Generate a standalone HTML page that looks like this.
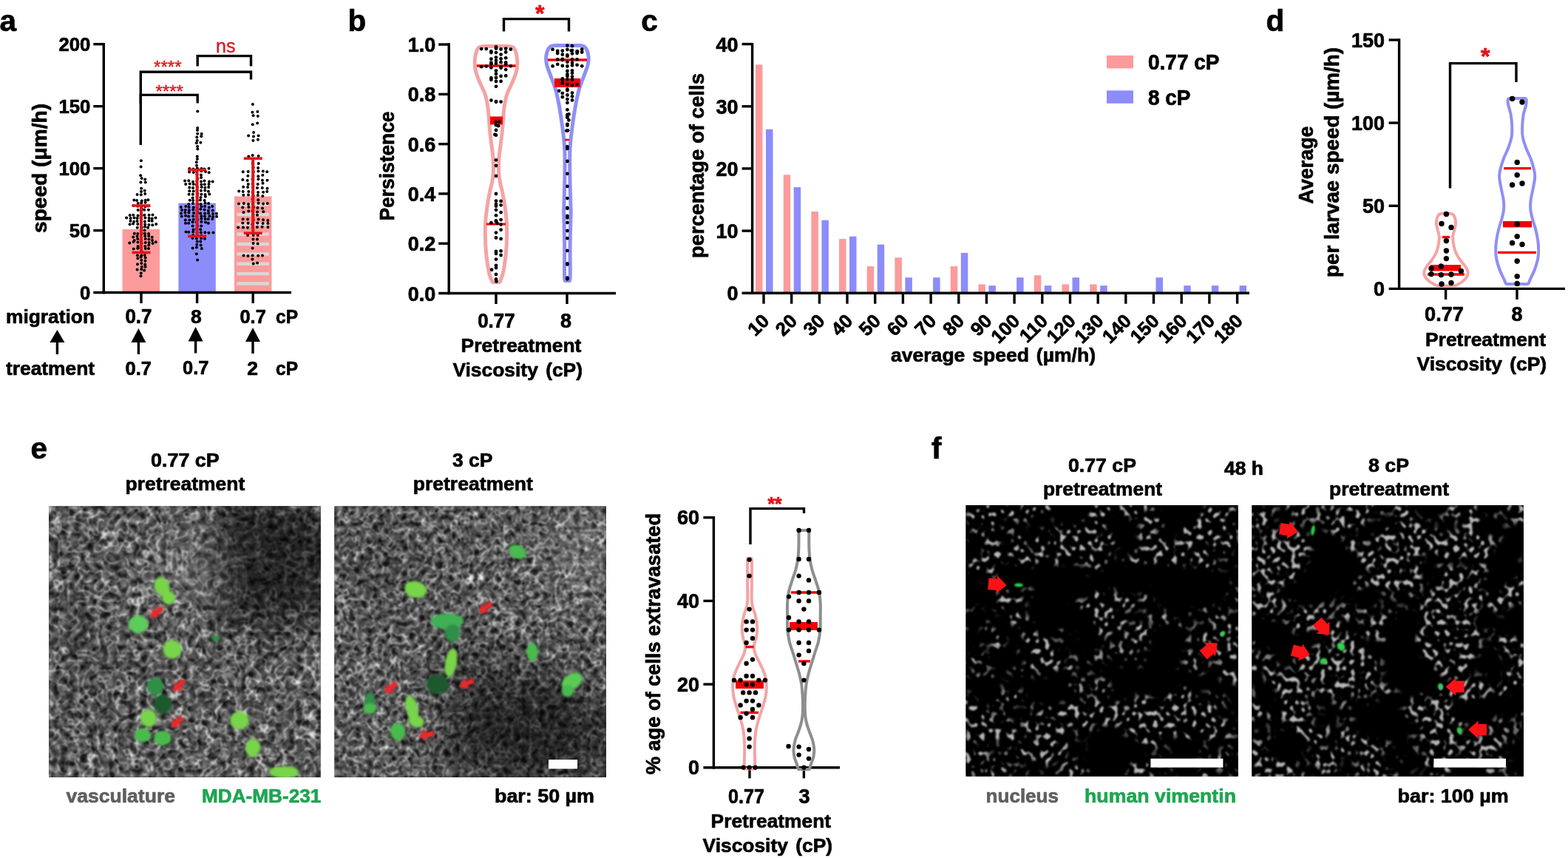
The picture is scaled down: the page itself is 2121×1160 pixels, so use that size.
<!DOCTYPE html>
<html lang="en"><head><meta charset="utf-8"><title>Figure: viscosity pretreatment, migration and extravasation</title>
<style>html,body{margin:0;padding:0;background:#fff}body{width:2121px;height:1160px;overflow:hidden}svg{display:block}text{font-family:'Liberation Sans', sans-serif;font-weight:bold;stroke:#000;stroke-width:0.7px;stroke-linejoin:round}</style>
</head><body>
<svg width="2121" height="1160" viewBox="0 0 2121 1160">
<rect width="2121" height="1160" fill="#fff"/>
<defs>
<filter id="texE1" x="0" y="0" width="100%" height="100%" color-interpolation-filters="sRGB">
<feTurbulence type="turbulence" baseFrequency="0.075" numOctaves="1" seed="4" result="t"/>
<feColorMatrix in="t" type="matrix" values="-7 0 0 0 0.5  -7 0 0 0 0.5  -7 0 0 0 0.5  0 0 0 0 1" result="web"/>
<feTurbulence type="fractalNoise" baseFrequency="0.11" numOctaves="2" seed="21" result="h"/>
<feColorMatrix in="h" type="matrix" values="0 1.3 0 0 -0.32  0 1.3 0 0 -0.32  0 1.3 0 0 -0.32  0 0 0 0 1" result="cells"/>
<feComposite in="web" in2="cells" operator="arithmetic" k1="0" k2="0.85" k3="0.7" k4="0.06" result="c1"/>
<feGaussianBlur in="c1" stdDeviation="0.8"/>
</filter>
<filter id="texE2" x="0" y="0" width="100%" height="100%" color-interpolation-filters="sRGB">
<feTurbulence type="turbulence" baseFrequency="0.085" numOctaves="1" seed="14" result="t"/>
<feColorMatrix in="t" type="matrix" values="-7 0 0 0 0.5  -7 0 0 0 0.5  -7 0 0 0 0.5  0 0 0 0 1" result="web"/>
<feTurbulence type="fractalNoise" baseFrequency="0.125" numOctaves="2" seed="31" result="h"/>
<feColorMatrix in="h" type="matrix" values="0 1.3 0 0 -0.32  0 1.3 0 0 -0.32  0 1.3 0 0 -0.32  0 0 0 0 1" result="cells"/>
<feComposite in="web" in2="cells" operator="arithmetic" k1="0" k2="0.85" k3="0.7" k4="0.06" result="c1"/>
<feGaussianBlur in="c1" stdDeviation="0.8"/>
</filter>
<filter id="texF1" x="0" y="0" width="100%" height="100%" color-interpolation-filters="sRGB">
<feTurbulence type="fractalNoise" baseFrequency="0.15 0.13" numOctaves="1" seed="5" result="s"/>
<feColorMatrix in="s" type="matrix" values="9 0 0 0 -5.0  9 0 0 0 -5.0  9 0 0 0 -5.0  0 0 0 0 1" result="sp"/>
<feTurbulence type="fractalNoise" baseFrequency="0.013 0.017" numOctaves="3" seed="8" result="l"/>
<feColorMatrix in="l" type="matrix" values="0 8 0 0 -3.55  0 8 0 0 -3.55  0 8 0 0 -3.55  0 0 0 0 1" result="mask"/>
<feComposite in="sp" in2="mask" operator="arithmetic" k1="0.72" k2="0" k3="0" k4="0" result="c"/>
<feGaussianBlur in="c" stdDeviation="0.8"/>
</filter>
<filter id="texF2" x="0" y="0" width="100%" height="100%" color-interpolation-filters="sRGB">
<feTurbulence type="fractalNoise" baseFrequency="0.15 0.13" numOctaves="1" seed="15" result="s"/>
<feColorMatrix in="s" type="matrix" values="9 0 0 0 -4.85  9 0 0 0 -4.85  9 0 0 0 -4.85  0 0 0 0 1" result="sp"/>
<feTurbulence type="fractalNoise" baseFrequency="0.013 0.017" numOctaves="3" seed="18" result="l"/>
<feColorMatrix in="l" type="matrix" values="0 8 0 0 -3.3  0 8 0 0 -3.3  0 8 0 0 -3.3  0 0 0 0 1" result="mask"/>
<feComposite in="sp" in2="mask" operator="arithmetic" k1="0.72" k2="0" k3="0" k4="0" result="c"/>
<feGaussianBlur in="c" stdDeviation="0.8"/>
</filter>
<filter id="blur2" x="-30%" y="-30%" width="160%" height="160%"><feGaussianBlur stdDeviation="1.6"/></filter>
<filter id="blur1" x="-30%" y="-30%" width="160%" height="160%"><feGaussianBlur stdDeviation="0.9"/></filter>
<filter id="blurL" x="-50%" y="-50%" width="200%" height="200%"><feGaussianBlur stdDeviation="28"/></filter>
</defs>
<g id="panel-a">
<text x="-0.5" y="42" font-size="40.5">a</text>
<rect x="165.6" y="309.9" width="50.4" height="85.6" fill="#fc9b9b"/>
<rect x="241.4" y="274.6" width="50.4" height="120.9" fill="#8c8cfa"/>
<rect x="317" y="265.4" width="50.4" height="130.1" fill="#fc9b9b"/>
<rect x="320.5" y="274.4" width="43.4" height="4.4" fill="#d8d8d8"/>
<rect x="320.5" y="287.8" width="43.4" height="4.4" fill="#d8d8d8"/>
<rect x="320.5" y="301.1" width="43.4" height="4.4" fill="#d8d8d8"/>
<rect x="320.5" y="314.5" width="43.4" height="4.4" fill="#d8d8d8"/>
<rect x="320.5" y="327.8" width="43.4" height="4.4" fill="#d8d8d8"/>
<rect x="320.5" y="341.2" width="43.4" height="4.4" fill="#d8d8d8"/>
<rect x="320.5" y="354.5" width="43.4" height="4.4" fill="#d8d8d8"/>
<rect x="320.5" y="367.9" width="43.4" height="4.4" fill="#d8d8d8"/>
<rect x="320.5" y="381.2" width="43.4" height="4.4" fill="#d8d8d8"/>
<line x1="140.3" y1="57.9" x2="140.3" y2="397.2" stroke="#000" stroke-width="3.4"/>
<line x1="126.3" y1="395.5" x2="394" y2="395.5" stroke="#000" stroke-width="3.4"/>
<line x1="126.3" y1="311.6" x2="140.3" y2="311.6" stroke="#000" stroke-width="3.4"/>
<line x1="126.3" y1="227.6" x2="140.3" y2="227.6" stroke="#000" stroke-width="3.4"/>
<line x1="126.3" y1="143.7" x2="140.3" y2="143.7" stroke="#000" stroke-width="3.4"/>
<line x1="126.3" y1="59.7" x2="140.3" y2="59.7" stroke="#000" stroke-width="3.4"/>
<line x1="191" y1="395.5" x2="191" y2="410" stroke="#000" stroke-width="3.4"/>
<line x1="266.6" y1="395.5" x2="266.6" y2="410" stroke="#000" stroke-width="3.4"/>
<line x1="342.2" y1="395.5" x2="342.2" y2="410" stroke="#000" stroke-width="3.4"/>
<text x="122.3" y="404.7" font-size="25.7" text-anchor="end">0</text>
<text x="122.3" y="320.8" font-size="25.7" text-anchor="end">50</text>
<text x="122.3" y="236.8" font-size="25.7" text-anchor="end">100</text>
<text x="122.3" y="152.8" font-size="25.7" text-anchor="end">150</text>
<text x="122.3" y="68.9" font-size="25.7" text-anchor="end">200</text>
<text x="0" y="0" font-size="27" text-anchor="middle" textLength="175" lengthAdjust="spacingAndGlyphs" transform="translate(63 227.5) rotate(-90)">speed (μm/h)</text>
<g fill="#000"><circle cx="190.5" cy="373.2" r="2"/><circle cx="190.8" cy="369.2" r="2"/><circle cx="191.2" cy="364" r="2"/><circle cx="195.1" cy="365.6" r="2"/><circle cx="185.6" cy="364.4" r="2"/><circle cx="191.9" cy="360.7" r="2"/><circle cx="196.6" cy="360.8" r="2"/><circle cx="191.3" cy="356" r="2"/><circle cx="196.2" cy="357.4" r="2"/><circle cx="186" cy="357.2" r="2"/><circle cx="191.3" cy="351.7" r="2"/><circle cx="196.5" cy="352.8" r="2"/><circle cx="190.6" cy="347.6" r="2"/><circle cx="196.7" cy="348.4" r="2"/><circle cx="186.4" cy="349.3" r="2"/><circle cx="191.4" cy="345.2" r="2"/><circle cx="195.8" cy="345" r="2"/><circle cx="185.9" cy="345.3" r="2"/><circle cx="191.7" cy="339.5" r="2"/><circle cx="190.3" cy="335.6" r="2"/><circle cx="196.8" cy="336.1" r="2"/><circle cx="186.2" cy="335.8" r="2"/><circle cx="201" cy="336" r="2"/><circle cx="180.7" cy="336.4" r="2"/><circle cx="191.2" cy="332.9" r="2"/><circle cx="196.3" cy="333" r="2"/><circle cx="186.6" cy="333.1" r="2"/><circle cx="201.3" cy="331.4" r="2"/><circle cx="191.6" cy="328.9" r="2"/><circle cx="196.7" cy="328.1" r="2"/><circle cx="186.4" cy="327.4" r="2"/><circle cx="201.6" cy="328.1" r="2"/><circle cx="180.6" cy="327.1" r="2"/><circle cx="206.6" cy="329" r="2"/><circle cx="175.3" cy="328.6" r="2"/><circle cx="210.8" cy="327.3" r="2"/><circle cx="190.6" cy="324.4" r="2"/><circle cx="196.7" cy="323" r="2"/><circle cx="186.2" cy="323" r="2"/><circle cx="201.4" cy="323.6" r="2"/><circle cx="181.7" cy="324.9" r="2"/><circle cx="206" cy="324.9" r="2"/><circle cx="190.7" cy="319" r="2"/><circle cx="196.2" cy="318.9" r="2"/><circle cx="185.5" cy="319.6" r="2"/><circle cx="201.2" cy="319.1" r="2"/><circle cx="180.2" cy="320.5" r="2"/><circle cx="205.7" cy="320.7" r="2"/><circle cx="191.7" cy="315.5" r="2"/><circle cx="195.9" cy="315.7" r="2"/><circle cx="186.3" cy="315.9" r="2"/><circle cx="201.1" cy="315.9" r="2"/><circle cx="181.8" cy="315.7" r="2"/><circle cx="190.9" cy="312" r="2"/><circle cx="195.5" cy="311.2" r="2"/><circle cx="191.9" cy="307.5" r="2"/><circle cx="196.1" cy="306.5" r="2"/><circle cx="185.8" cy="307.7" r="2"/><circle cx="200.1" cy="307.7" r="2"/><circle cx="191.2" cy="302.5" r="2"/><circle cx="196.2" cy="303.3" r="2"/><circle cx="186.3" cy="303.1" r="2"/><circle cx="201.4" cy="303.9" r="2"/><circle cx="180.1" cy="302.5" r="2"/><circle cx="206.3" cy="304.3" r="2"/><circle cx="175.6" cy="303.3" r="2"/><circle cx="211.2" cy="303" r="2"/><circle cx="190.8" cy="298.9" r="2"/><circle cx="195.8" cy="299.5" r="2"/><circle cx="185.6" cy="299.1" r="2"/><circle cx="201.5" cy="298.4" r="2"/><circle cx="181.1" cy="299.8" r="2"/><circle cx="205.7" cy="298.7" r="2"/><circle cx="176.5" cy="298.8" r="2"/><circle cx="190.4" cy="295.1" r="2"/><circle cx="196.4" cy="294.4" r="2"/><circle cx="185.7" cy="294.9" r="2"/><circle cx="201.6" cy="295.1" r="2"/><circle cx="181.6" cy="294.5" r="2"/><circle cx="205.7" cy="295.5" r="2"/><circle cx="176.7" cy="295.1" r="2"/><circle cx="210.5" cy="294.4" r="2"/><circle cx="171.1" cy="294.6" r="2"/><circle cx="191.6" cy="291.8" r="2"/><circle cx="195.4" cy="290.7" r="2"/><circle cx="186.6" cy="291.4" r="2"/><circle cx="201.6" cy="290.8" r="2"/><circle cx="180.3" cy="290.7" r="2"/><circle cx="206.5" cy="290.6" r="2"/><circle cx="175.7" cy="290.9" r="2"/><circle cx="190.9" cy="286.8" r="2"/><circle cx="191.8" cy="282.2" r="2"/><circle cx="195.1" cy="283.8" r="2"/><circle cx="186.7" cy="283.9" r="2"/><circle cx="200.9" cy="283.8" r="2"/><circle cx="191.8" cy="278.2" r="2"/><circle cx="196.4" cy="279.5" r="2"/><circle cx="186.3" cy="278.8" r="2"/><circle cx="200.6" cy="278.5" r="2"/><circle cx="180.5" cy="277.9" r="2"/><circle cx="191.2" cy="274.3" r="2"/><circle cx="196.6" cy="273.8" r="2"/><circle cx="186.7" cy="275.1" r="2"/><circle cx="191.8" cy="271.4" r="2"/><circle cx="196.7" cy="270.8" r="2"/><circle cx="185.1" cy="271.1" r="2"/><circle cx="200.4" cy="270.2" r="2"/><circle cx="181.3" cy="270.6" r="2"/><circle cx="190.8" cy="263.3" r="2"/><circle cx="196.2" cy="262.1" r="2"/><circle cx="185.6" cy="263.1" r="2"/><circle cx="191" cy="258.9" r="2"/><circle cx="195.7" cy="257.7" r="2"/><circle cx="191.1" cy="254.8" r="2"/><circle cx="190.4" cy="246.6" r="2"/><circle cx="196.8" cy="246.6" r="2"/><circle cx="191.6" cy="240.9" r="2"/><circle cx="196.2" cy="242.6" r="2"/><circle cx="190.2" cy="237.3" r="2"/><circle cx="190.6" cy="225.6" r="2"/><circle cx="190.9" cy="217.2" r="2"/></g>
<g fill="#000"><circle cx="267.1" cy="351.6" r="2"/><circle cx="265.8" cy="343.3" r="2"/><circle cx="265.9" cy="334.5" r="2"/><circle cx="272.8" cy="336.1" r="2"/><circle cx="260.6" cy="335.4" r="2"/><circle cx="266.3" cy="330.7" r="2"/><circle cx="271.6" cy="331.4" r="2"/><circle cx="266.8" cy="326.5" r="2"/><circle cx="271.3" cy="326.5" r="2"/><circle cx="265.9" cy="322.6" r="2"/><circle cx="272.3" cy="322.3" r="2"/><circle cx="260.5" cy="321.9" r="2"/><circle cx="277" cy="322.7" r="2"/><circle cx="267.1" cy="318" r="2"/><circle cx="272.4" cy="318.4" r="2"/><circle cx="261.2" cy="317.9" r="2"/><circle cx="266.6" cy="314.3" r="2"/><circle cx="271.8" cy="314.3" r="2"/><circle cx="261.2" cy="313.4" r="2"/><circle cx="277.3" cy="314.3" r="2"/><circle cx="255.2" cy="313.7" r="2"/><circle cx="282.4" cy="314.7" r="2"/><circle cx="251.5" cy="313.6" r="2"/><circle cx="288.5" cy="314.5" r="2"/><circle cx="266.2" cy="309.5" r="2"/><circle cx="271.2" cy="310.2" r="2"/><circle cx="261.6" cy="310.4" r="2"/><circle cx="267.1" cy="305.6" r="2"/><circle cx="272.3" cy="305.4" r="2"/><circle cx="260.6" cy="305.5" r="2"/><circle cx="265.7" cy="300.3" r="2"/><circle cx="272.4" cy="300.1" r="2"/><circle cx="260.6" cy="300.2" r="2"/><circle cx="277.9" cy="300.4" r="2"/><circle cx="255.1" cy="301.7" r="2"/><circle cx="281.8" cy="301.7" r="2"/><circle cx="251" cy="301.7" r="2"/><circle cx="267.4" cy="296.9" r="2"/><circle cx="272.4" cy="295.8" r="2"/><circle cx="261.8" cy="296.7" r="2"/><circle cx="277.6" cy="295.9" r="2"/><circle cx="256.4" cy="297.6" r="2"/><circle cx="281.7" cy="296.3" r="2"/><circle cx="250.8" cy="297.4" r="2"/><circle cx="287.3" cy="296.1" r="2"/><circle cx="266.1" cy="292.6" r="2"/><circle cx="272.4" cy="292.2" r="2"/><circle cx="261.1" cy="292.2" r="2"/><circle cx="276.9" cy="292.2" r="2"/><circle cx="255.2" cy="292.4" r="2"/><circle cx="283.4" cy="292.2" r="2"/><circle cx="251.1" cy="291.7" r="2"/><circle cx="288.1" cy="292.9" r="2"/><circle cx="245.7" cy="292.4" r="2"/><circle cx="293.1" cy="292.7" r="2"/><circle cx="267.3" cy="287.4" r="2"/><circle cx="271.2" cy="288.6" r="2"/><circle cx="262" cy="288.1" r="2"/><circle cx="277.1" cy="288.5" r="2"/><circle cx="255.4" cy="287.6" r="2"/><circle cx="282" cy="288.3" r="2"/><circle cx="250.4" cy="287.6" r="2"/><circle cx="288.1" cy="289" r="2"/><circle cx="245" cy="288.5" r="2"/><circle cx="292.9" cy="288.8" r="2"/><circle cx="266.8" cy="283.3" r="2"/><circle cx="271.4" cy="282.8" r="2"/><circle cx="261.3" cy="283.6" r="2"/><circle cx="276.6" cy="283.5" r="2"/><circle cx="255.7" cy="284.3" r="2"/><circle cx="281.9" cy="284.8" r="2"/><circle cx="250.7" cy="284" r="2"/><circle cx="287.7" cy="284.5" r="2"/><circle cx="246" cy="283.9" r="2"/><circle cx="266.6" cy="279.9" r="2"/><circle cx="272.5" cy="279.3" r="2"/><circle cx="261.7" cy="280.4" r="2"/><circle cx="277.1" cy="279" r="2"/><circle cx="255.5" cy="279.9" r="2"/><circle cx="282.8" cy="280.4" r="2"/><circle cx="251.3" cy="279" r="2"/><circle cx="287.2" cy="279" r="2"/><circle cx="244.8" cy="279.9" r="2"/><circle cx="267.2" cy="276" r="2"/><circle cx="271.5" cy="275.9" r="2"/><circle cx="261" cy="275" r="2"/><circle cx="277.6" cy="274.4" r="2"/><circle cx="255.3" cy="275.9" r="2"/><circle cx="282.1" cy="274.9" r="2"/><circle cx="266.7" cy="271.3" r="2"/><circle cx="271" cy="270.6" r="2"/><circle cx="261.2" cy="270.9" r="2"/><circle cx="276.7" cy="271.1" r="2"/><circle cx="256.8" cy="270.7" r="2"/><circle cx="266.7" cy="265.8" r="2"/><circle cx="271.5" cy="266.9" r="2"/><circle cx="260.6" cy="267.4" r="2"/><circle cx="277.9" cy="265.8" r="2"/><circle cx="267.4" cy="262" r="2"/><circle cx="272.4" cy="262.8" r="2"/><circle cx="260.9" cy="262.7" r="2"/><circle cx="277.5" cy="262.9" r="2"/><circle cx="255.6" cy="262.8" r="2"/><circle cx="283.3" cy="262.6" r="2"/><circle cx="266.7" cy="257.2" r="2"/><circle cx="271.9" cy="257.7" r="2"/><circle cx="261.7" cy="258.4" r="2"/><circle cx="277.3" cy="257.4" r="2"/><circle cx="256.3" cy="258.3" r="2"/><circle cx="281.9" cy="258.8" r="2"/><circle cx="266.9" cy="252.9" r="2"/><circle cx="272.7" cy="253" r="2"/><circle cx="261" cy="254.1" r="2"/><circle cx="277.4" cy="253.8" r="2"/><circle cx="256.3" cy="253.6" r="2"/><circle cx="282.2" cy="253.1" r="2"/><circle cx="265.8" cy="249.8" r="2"/><circle cx="272.4" cy="249.5" r="2"/><circle cx="261.7" cy="249.1" r="2"/><circle cx="276.8" cy="249.2" r="2"/><circle cx="256.7" cy="248.5" r="2"/><circle cx="282.5" cy="248.9" r="2"/><circle cx="251.2" cy="249.1" r="2"/><circle cx="266.3" cy="244.9" r="2"/><circle cx="272" cy="245.6" r="2"/><circle cx="261" cy="245.8" r="2"/><circle cx="276.5" cy="244.6" r="2"/><circle cx="255.3" cy="244.3" r="2"/><circle cx="283" cy="245.6" r="2"/><circle cx="250.1" cy="244.5" r="2"/><circle cx="287.6" cy="245.6" r="2"/><circle cx="267.2" cy="241.3" r="2"/><circle cx="272.1" cy="240.1" r="2"/><circle cx="266.4" cy="235.9" r="2"/><circle cx="271.9" cy="236.6" r="2"/><circle cx="266.1" cy="231.7" r="2"/><circle cx="272.4" cy="231.3" r="2"/><circle cx="261.8" cy="233" r="2"/><circle cx="278" cy="232" r="2"/><circle cx="256.1" cy="232.4" r="2"/><circle cx="282.7" cy="233.2" r="2"/><circle cx="266.9" cy="227.5" r="2"/><circle cx="272.5" cy="227.9" r="2"/><circle cx="261.5" cy="228.4" r="2"/><circle cx="276.3" cy="228.4" r="2"/><circle cx="256.3" cy="227.9" r="2"/><circle cx="282.5" cy="227.8" r="2"/><circle cx="266" cy="223.7" r="2"/><circle cx="265.8" cy="219.3" r="2"/><circle cx="266.9" cy="214.9" r="2"/><circle cx="266.7" cy="211.6" r="2"/><circle cx="267.3" cy="201.4" r="2"/><circle cx="267.1" cy="198" r="2"/><circle cx="265.8" cy="193.2" r="2"/><circle cx="271.4" cy="192.7" r="2"/><circle cx="266.7" cy="190.1" r="2"/><circle cx="266.3" cy="185.6" r="2"/><circle cx="272.3" cy="184.2" r="2"/><circle cx="267.2" cy="180.8" r="2"/><circle cx="272.7" cy="181" r="2"/><circle cx="267" cy="176" r="2"/><circle cx="267.2" cy="172.9" r="2"/><circle cx="267.3" cy="150.4" r="2"/></g>
<g fill="#000"><circle cx="342.7" cy="356.4" r="2"/><circle cx="348.1" cy="355.5" r="2"/><circle cx="341.4" cy="350.4" r="2"/><circle cx="341.6" cy="345.6" r="2"/><circle cx="349.2" cy="345.7" r="2"/><circle cx="335.5" cy="345.9" r="2"/><circle cx="355" cy="345.5" r="2"/><circle cx="329.5" cy="345.4" r="2"/><circle cx="341.6" cy="335.6" r="2"/><circle cx="342.6" cy="329.1" r="2"/><circle cx="348.6" cy="329.5" r="2"/><circle cx="342.4" cy="323.4" r="2"/><circle cx="347.9" cy="323.4" r="2"/><circle cx="342.7" cy="317.9" r="2"/><circle cx="348.7" cy="318" r="2"/><circle cx="335.1" cy="317.9" r="2"/><circle cx="342" cy="307.1" r="2"/><circle cx="347.9" cy="307" r="2"/><circle cx="335" cy="307.8" r="2"/><circle cx="354.6" cy="306.8" r="2"/><circle cx="328.9" cy="307.6" r="2"/><circle cx="362.4" cy="306.9" r="2"/><circle cx="322.2" cy="307.6" r="2"/><circle cx="341.3" cy="303.3" r="2"/><circle cx="348.3" cy="301.6" r="2"/><circle cx="335.6" cy="301.7" r="2"/><circle cx="355.6" cy="302.1" r="2"/><circle cx="328.3" cy="301.5" r="2"/><circle cx="362.4" cy="302" r="2"/><circle cx="342.7" cy="296.9" r="2"/><circle cx="349.6" cy="296.6" r="2"/><circle cx="335.1" cy="296.5" r="2"/><circle cx="356" cy="297.3" r="2"/><circle cx="328.7" cy="296.2" r="2"/><circle cx="362.3" cy="297.9" r="2"/><circle cx="342.4" cy="290.6" r="2"/><circle cx="348" cy="290.8" r="2"/><circle cx="341.6" cy="285.3" r="2"/><circle cx="348" cy="286.5" r="2"/><circle cx="336.3" cy="285.6" r="2"/><circle cx="356.3" cy="286.2" r="2"/><circle cx="329.5" cy="287" r="2"/><circle cx="343" cy="279.9" r="2"/><circle cx="348.4" cy="281" r="2"/><circle cx="336.4" cy="280" r="2"/><circle cx="355" cy="281.5" r="2"/><circle cx="328.3" cy="280.6" r="2"/><circle cx="341.9" cy="275.8" r="2"/><circle cx="349.6" cy="274.7" r="2"/><circle cx="336" cy="275.9" r="2"/><circle cx="356" cy="275.5" r="2"/><circle cx="329.8" cy="275.1" r="2"/><circle cx="361.8" cy="274.9" r="2"/><circle cx="322.9" cy="275.4" r="2"/><circle cx="341.8" cy="269.3" r="2"/><circle cx="349.2" cy="270.2" r="2"/><circle cx="342.6" cy="264.4" r="2"/><circle cx="348.8" cy="263.9" r="2"/><circle cx="336" cy="263.6" r="2"/><circle cx="355.3" cy="265.1" r="2"/><circle cx="329.3" cy="263.8" r="2"/><circle cx="341.7" cy="259.9" r="2"/><circle cx="349.1" cy="260" r="2"/><circle cx="336.3" cy="259.1" r="2"/><circle cx="356.1" cy="259.7" r="2"/><circle cx="328.7" cy="258.9" r="2"/><circle cx="361.2" cy="259" r="2"/><circle cx="323.2" cy="258.4" r="2"/><circle cx="342.3" cy="253" r="2"/><circle cx="348" cy="254.1" r="2"/><circle cx="335.1" cy="252.9" r="2"/><circle cx="354.8" cy="254.1" r="2"/><circle cx="329.2" cy="252.8" r="2"/><circle cx="361.5" cy="254.7" r="2"/><circle cx="341.7" cy="248.5" r="2"/><circle cx="348.7" cy="249" r="2"/><circle cx="335.8" cy="249" r="2"/><circle cx="355.5" cy="247.8" r="2"/><circle cx="341.6" cy="242.2" r="2"/><circle cx="349.4" cy="242.2" r="2"/><circle cx="334.7" cy="243.9" r="2"/><circle cx="354.9" cy="243.8" r="2"/><circle cx="328.3" cy="242.9" r="2"/><circle cx="361.5" cy="243.7" r="2"/><circle cx="342.4" cy="237.9" r="2"/><circle cx="349.3" cy="238.3" r="2"/><circle cx="335.3" cy="237.8" r="2"/><circle cx="355.3" cy="236.8" r="2"/><circle cx="342.8" cy="232.4" r="2"/><circle cx="349.4" cy="231.6" r="2"/><circle cx="335.7" cy="232.1" r="2"/><circle cx="355.8" cy="231.4" r="2"/><circle cx="328.7" cy="232.2" r="2"/><circle cx="361.2" cy="232.3" r="2"/><circle cx="342.6" cy="226.6" r="2"/><circle cx="349.1" cy="227" r="2"/><circle cx="341.7" cy="221.1" r="2"/><circle cx="349.7" cy="221.1" r="2"/><circle cx="342.1" cy="215.2" r="2"/><circle cx="341.7" cy="209.9" r="2"/><circle cx="349.6" cy="211.1" r="2"/><circle cx="336.3" cy="211.6" r="2"/><circle cx="342.4" cy="189.9" r="2"/><circle cx="348.9" cy="188.8" r="2"/><circle cx="343" cy="184.4" r="2"/><circle cx="349.6" cy="183.6" r="2"/><circle cx="336.1" cy="183.4" r="2"/><circle cx="343.1" cy="179" r="2"/><circle cx="341.8" cy="168.3" r="2"/><circle cx="348.2" cy="166.6" r="2"/><circle cx="342.6" cy="156.2" r="2"/><circle cx="348.8" cy="156.9" r="2"/><circle cx="341.4" cy="151.7" r="2"/><circle cx="348.4" cy="151.1" r="2"/><circle cx="341.9" cy="140.9" r="2"/></g>
<line x1="191" y1="341.4" x2="191" y2="278" stroke="#e1141c" stroke-width="4"/>
<line x1="178.5" y1="341.4" x2="203.5" y2="341.4" stroke="#e1141c" stroke-width="3.6"/>
<line x1="178.5" y1="278" x2="203.5" y2="278" stroke="#e1141c" stroke-width="3.6"/>
<line x1="266.6" y1="319.4" x2="266.6" y2="229.6" stroke="#e1141c" stroke-width="4"/>
<line x1="254.1" y1="319.4" x2="279.1" y2="319.4" stroke="#e1141c" stroke-width="3.6"/>
<line x1="254.1" y1="229.6" x2="279.1" y2="229.6" stroke="#e1141c" stroke-width="3.6"/>
<line x1="342.2" y1="315.2" x2="342.2" y2="214.2" stroke="#e1141c" stroke-width="4"/>
<line x1="329.7" y1="315.2" x2="354.7" y2="315.2" stroke="#e1141c" stroke-width="3.6"/>
<line x1="329.7" y1="214.2" x2="354.7" y2="214.2" stroke="#e1141c" stroke-width="3.6"/>
<path d="M267.2 89.6V75.6H339.5V89.6" fill="none" stroke="#000" stroke-width="3.4" stroke-linejoin="miter"/>
<path d="M190.3 196V97.2H339.5V107.6" fill="none" stroke="#000" stroke-width="3.4" stroke-linejoin="miter"/>
<path d="M190.3 140V128.4H267.2V139.6" fill="none" stroke="#000" stroke-width="3.4" stroke-linejoin="miter"/>
<text x="292" y="71" font-size="26" textLength="26.5" lengthAdjust="spacingAndGlyphs" fill="#e1141c" style="stroke:#e1141c;stroke-width:0.35px;font-weight:normal">ns</text>
<text x="208" y="99" font-size="24" textLength="37.6" lengthAdjust="spacingAndGlyphs" fill="#e1141c" style="stroke:#e1141c;stroke-width:0.35px;font-weight:normal">****</text>
<text x="210.4" y="131.5" font-size="24" textLength="37.6" lengthAdjust="spacingAndGlyphs" fill="#e1141c" style="stroke:#e1141c;stroke-width:0.35px;font-weight:normal">****</text>
<text x="8" y="437" font-size="26.5" textLength="120" lengthAdjust="spacingAndGlyphs">migration</text>
<text x="169.4" y="437" font-size="27.2" textLength="36" lengthAdjust="spacingAndGlyphs">0.7</text>
<text x="258" y="437" font-size="26.5">8</text>
<text x="324.4" y="437" font-size="26.5" textLength="35.4" lengthAdjust="spacingAndGlyphs">0.7</text>
<text x="373" y="437" font-size="26.5" textLength="30" lengthAdjust="spacingAndGlyphs">cP</text>
<text x="8" y="507" font-size="26.5" textLength="120" lengthAdjust="spacingAndGlyphs">treatment</text>
<text x="169.6" y="507" font-size="26.5" textLength="35.4" lengthAdjust="spacingAndGlyphs">0.7</text>
<text x="247" y="505.5" font-size="26.5" textLength="35.4" lengthAdjust="spacingAndGlyphs">0.7</text>
<text x="334.2" y="507" font-size="26.5">2</text>
<text x="373" y="507" font-size="26.5" textLength="30" lengthAdjust="spacingAndGlyphs">cP</text>
<path d="M77.4 446L87.4 463L67.4 463Z" fill="#000"/>
<line x1="77.4" y1="462" x2="77.4" y2="479" stroke="#000" stroke-width="3.4"/>
<path d="M187.4 444L197.4 463L177.4 463Z" fill="#000"/>
<line x1="187.4" y1="462" x2="187.4" y2="479" stroke="#000" stroke-width="3.4"/>
<path d="M264.6 442L274.6 461.5L254.6 461.5Z" fill="#000"/>
<line x1="264.6" y1="460.5" x2="264.6" y2="477.5" stroke="#000" stroke-width="3.4"/>
<path d="M342 443L352 462L332 462Z" fill="#000"/>
<line x1="342" y1="461" x2="342" y2="478" stroke="#000" stroke-width="3.4"/>
</g>
<g id="panel-b">
<text x="470.5" y="41.5" font-size="40.5">b</text>
<line x1="607.2" y1="58.3" x2="607.2" y2="398.2" stroke="#000" stroke-width="3.4"/>
<line x1="593.2" y1="396.5" x2="833" y2="396.5" stroke="#000" stroke-width="3.4"/>
<line x1="593.2" y1="329.2" x2="607.2" y2="329.2" stroke="#000" stroke-width="3.4"/>
<line x1="593.2" y1="261.9" x2="607.2" y2="261.9" stroke="#000" stroke-width="3.4"/>
<line x1="593.2" y1="194.7" x2="607.2" y2="194.7" stroke="#000" stroke-width="3.4"/>
<line x1="593.2" y1="127.4" x2="607.2" y2="127.4" stroke="#000" stroke-width="3.4"/>
<line x1="593.2" y1="60.1" x2="607.2" y2="60.1" stroke="#000" stroke-width="3.4"/>
<line x1="671" y1="396.5" x2="671" y2="411" stroke="#000" stroke-width="3.4"/>
<line x1="767" y1="396.5" x2="767" y2="411" stroke="#000" stroke-width="3.4"/>
<text x="589.4" y="406.5" font-size="27" text-anchor="end">0.0</text>
<text x="589.4" y="339.2" font-size="27" text-anchor="end">0.2</text>
<text x="589.4" y="271.9" font-size="27" text-anchor="end">0.4</text>
<text x="589.4" y="204.7" font-size="27" text-anchor="end">0.6</text>
<text x="589.4" y="137.4" font-size="27" text-anchor="end">0.8</text>
<text x="589.4" y="70.1" font-size="27" text-anchor="end">1.0</text>
<text x="0" y="0" font-size="27" text-anchor="middle" textLength="148" lengthAdjust="spacingAndGlyphs" transform="translate(532.5 224.5) rotate(-90)">Persistence</text>
<text x="646.2" y="443" font-size="27" textLength="50.5" lengthAdjust="spacingAndGlyphs">0.77</text>
<text x="758" y="443" font-size="27">8</text>
<text x="623.6" y="476" font-size="26.5" textLength="162.8" lengthAdjust="spacingAndGlyphs">Pretreatment</text>
<text x="612.4" y="509" font-size="26.5" textLength="175.6" lengthAdjust="spacingAndGlyphs" word-spacing="3">Viscosity (cP)</text>
<path d="M681.5 42.5V25.6H769.5V42.5" fill="none" stroke="#000" stroke-width="3.4" stroke-linejoin="miter"/>
<text x="724" y="29" font-size="32" fill="#e1141c" style="stroke:#e1141c">*</text>
<path d="M687.1 62.5C688.3 62.8 692.4 62.8 694.1 64C695.9 65.2 696.7 67.3 697.6 70C698.5 72.7 699.3 77 699.6 80C699.9 83 699.8 85.3 699.6 88C699.4 90.7 699.6 92.3 698.6 96C697.6 99.7 695.8 104.7 693.6 110C691.4 115.3 687.5 122.2 685.6 128C683.7 133.8 682.9 139.7 682.1 145C681.3 150.3 681.1 154.2 680.6 160C680.1 165.8 679.8 173.3 679.1 180C678.4 186.7 677.3 194.2 676.6 200C675.9 205.8 675.2 209.7 674.9 215C674.6 220.3 674.4 227 674.6 232C674.8 237 675.3 240.3 676.1 245C676.9 249.7 678.4 254.2 679.6 260C680.8 265.8 682.2 273.3 683.1 280C684 286.7 684.9 293.3 685.3 300C685.7 306.7 685.7 313.3 685.6 320C685.5 326.7 685.2 333.3 684.6 340C684 346.7 682.9 354.7 682.1 360C681.3 365.3 680.5 368.7 679.6 372C678.7 375.3 677.3 378.4 676.6 380C675.9 381.6 675.8 381.2 675.6 381.5L666.4 381.5C666.2 381.2 666.1 381.6 665.4 380C664.7 378.4 663.3 375.3 662.4 372C661.5 368.7 660.7 365.3 659.9 360C659.1 354.7 658 346.7 657.4 340C656.8 333.3 656.5 326.7 656.4 320C656.3 313.3 656.3 306.7 656.7 300C657.1 293.3 658 286.7 658.9 280C659.8 273.3 661.2 265.8 662.4 260C663.6 254.2 665.1 249.7 665.9 245C666.7 240.3 667.2 237 667.4 232C667.6 227 667.4 220.3 667.1 215C666.8 209.7 666.1 205.8 665.4 200C664.7 194.2 663.6 186.7 662.9 180C662.2 173.3 661.9 165.8 661.4 160C660.9 154.2 660.7 150.3 659.9 145C659.1 139.7 658.3 133.8 656.4 128C654.5 122.2 650.6 115.3 648.4 110C646.2 104.7 644.4 99.7 643.4 96C642.4 92.3 642.6 90.7 642.4 88C642.2 85.3 642.1 83 642.4 80C642.7 77 643.5 72.7 644.4 70C645.3 67.3 646.1 65.2 647.9 64C649.6 62.8 653.7 62.8 654.9 62.5Z" fill="none" stroke="#f4a4a4" stroke-width="5" stroke-linejoin="round"/>
<path d="M784.5 61.5C785.5 61.8 788.9 61.9 790.5 63C792.1 64.1 793.1 65.8 794 68C794.9 70.2 795.7 73.7 796 76C796.3 78.3 796.2 79.7 796 82C795.8 84.3 795.7 86.2 794.5 90C793.3 93.8 790.8 100 789 105C787.2 110 785.2 114.2 783.5 120C781.8 125.8 780.3 133.3 779 140C777.7 146.7 776.7 153.3 775.7 160C774.7 166.7 773.8 173.3 773 180C772.2 186.7 771.5 193.3 771.1 200C770.7 206.7 770.7 211.7 770.7 220C770.7 228.3 770.9 240 771.1 250C771.3 260 771.8 273.3 772 280C772.2 286.7 772.2 285 772.1 290C772 295 771.7 301.7 771.5 310C771.3 318.3 771.1 330.8 771.1 340C771.1 349.2 771.3 359 771.3 365C771.3 371 771.2 373.6 771.1 376C771 378.4 770.6 378.9 770.5 379.5L764.3 379.5C764.2 378.9 763.8 378.4 763.7 376C763.6 373.6 763.5 371 763.5 365C763.5 359 763.7 349.2 763.7 340C763.7 330.8 763.5 318.3 763.3 310C763.1 301.7 762.8 295 762.7 290C762.6 285 762.6 286.7 762.8 280C763 273.3 763.5 260 763.7 250C763.9 240 764.1 228.3 764.1 220C764.1 211.7 764.1 206.7 763.7 200C763.3 193.3 762.6 186.7 761.8 180C761 173.3 760.1 166.7 759.1 160C758.1 153.3 757.1 146.7 755.8 140C754.5 133.3 753 125.8 751.3 120C749.6 114.2 747.6 110 745.8 105C744 100 741.5 93.8 740.3 90C739.1 86.2 739 84.3 738.8 82C738.5 79.7 738.5 78.3 738.8 76C739.1 73.7 739.9 70.2 740.8 68C741.7 65.8 742.7 64.1 744.3 63C745.9 61.9 749.3 61.8 750.3 61.5Z" fill="none" stroke="#8f8ff5" stroke-width="5" stroke-linejoin="round"/>
<rect x="663" y="157.5" width="17" height="11" fill="#f00000"/>
<line x1="645" y1="89" x2="697.5" y2="89" stroke="#f00000" stroke-width="3.4"/>
<line x1="658" y1="303" x2="684" y2="303" stroke="#f00000" stroke-width="3"/>
<rect x="750" y="106" width="35" height="12" fill="#f00000"/>
<line x1="741" y1="81" x2="794" y2="81" stroke="#f00000" stroke-width="3.4"/>
<line x1="764" y1="189" x2="770" y2="189" stroke="#f00000" stroke-width="2.6"/>
<g fill="#000"><circle cx="671" cy="65.6" r="2.4"/><circle cx="677.6" cy="66.5" r="2.4"/><circle cx="664.4" cy="69.4" r="2.4"/><circle cx="684.2" cy="65.7" r="2.4"/><circle cx="657.8" cy="66.1" r="2.4"/><circle cx="690.8" cy="66.7" r="2.4"/><circle cx="671" cy="63.5" r="2.4"/><circle cx="651.2" cy="66.1" r="2.4"/><circle cx="671" cy="77.6" r="2.4"/><circle cx="677.6" cy="79.5" r="2.4"/><circle cx="671" cy="71.1" r="2.4"/><circle cx="677.6" cy="73.6" r="2.4"/><circle cx="664.4" cy="71.1" r="2.4"/><circle cx="664.4" cy="79.7" r="2.4"/><circle cx="684.2" cy="78.3" r="2.4"/><circle cx="684.2" cy="70.5" r="2.4"/><circle cx="671" cy="81.8" r="2.4"/><circle cx="671" cy="95.6" r="2.4"/><circle cx="677.6" cy="91.8" r="2.4"/><circle cx="664.4" cy="91.4" r="2.4"/><circle cx="671" cy="85.9" r="2.4"/><circle cx="677.6" cy="84.2" r="2.4"/><circle cx="677.6" cy="90.3" r="2.4"/><circle cx="664.4" cy="84.7" r="2.4"/><circle cx="664.4" cy="86.3" r="2.4"/><circle cx="684.2" cy="86.9" r="2.4"/><circle cx="684.2" cy="84.4" r="2.4"/><circle cx="657.8" cy="89.6" r="2.4"/><circle cx="690.8" cy="89.3" r="2.4"/><circle cx="684.2" cy="94.1" r="2.4"/><circle cx="651.2" cy="90.2" r="2.4"/><circle cx="671" cy="105" r="2.4"/><circle cx="677.6" cy="103" r="2.4"/><circle cx="664.4" cy="105.3" r="2.4"/><circle cx="684.2" cy="102.4" r="2.4"/><circle cx="671" cy="99.9" r="2.4"/><circle cx="671" cy="110" r="2.4"/><circle cx="677.6" cy="109.9" r="2.4"/><circle cx="664.4" cy="107.8" r="2.4"/><circle cx="671" cy="116.8" r="2.4"/><circle cx="671" cy="137.8" r="2.4"/><circle cx="671" cy="137.1" r="2.4"/><circle cx="677.6" cy="137.6" r="2.4"/><circle cx="664.4" cy="135.6" r="2.4"/><circle cx="671" cy="169.2" r="2.4"/><circle cx="671" cy="164.8" r="2.4"/><circle cx="674.2" cy="170.2" r="2.4"/><circle cx="675.3" cy="164.6" r="2.4"/><circle cx="671" cy="182.7" r="2.4"/><circle cx="669.4" cy="181.9" r="2.4"/><circle cx="671" cy="176" r="2.4"/><circle cx="671" cy="216.3" r="2.4"/><circle cx="671" cy="224" r="2.4"/><circle cx="671" cy="237.9" r="2.4"/><circle cx="671" cy="262" r="2.4"/><circle cx="671" cy="278.7" r="2.4"/><circle cx="671" cy="271.6" r="2.4"/><circle cx="671" cy="283.8" r="2.4"/><circle cx="677.6" cy="287.1" r="2.4"/><circle cx="671" cy="275.9" r="2.4"/><circle cx="677.6" cy="271.9" r="2.4"/><circle cx="677.6" cy="277.3" r="2.4"/><circle cx="671" cy="291.2" r="2.4"/><circle cx="671" cy="321.5" r="2.4"/><circle cx="671" cy="299.1" r="2.4"/><circle cx="677.6" cy="303.6" r="2.4"/><circle cx="671" cy="298.5" r="2.4"/><circle cx="677.6" cy="297.1" r="2.4"/><circle cx="677.6" cy="322.9" r="2.4"/><circle cx="664.4" cy="301.2" r="2.4"/><circle cx="671" cy="314.6" r="2.4"/><circle cx="677.6" cy="310.7" r="2.4"/><circle cx="672.5" cy="301.7" r="2.4"/><circle cx="671" cy="362.1" r="2.4"/><circle cx="671" cy="339.8" r="2.4"/><circle cx="671" cy="358.8" r="2.4"/><circle cx="677.6" cy="339.3" r="2.4"/><circle cx="671" cy="350.6" r="2.4"/><circle cx="671" cy="342.9" r="2.4"/><circle cx="677.6" cy="345" r="2.4"/><circle cx="671" cy="370.9" r="2.4"/><circle cx="665.1" cy="364.7" r="2.4"/><circle cx="671" cy="377.5" r="2.4"/><circle cx="671.4" cy="380.4" r="2.4"/></g>
<g fill="#000"><circle cx="767.4" cy="61.6" r="2.4"/><circle cx="774" cy="62.2" r="2.4"/><circle cx="767.4" cy="74.5" r="2.4"/><circle cx="774" cy="72.4" r="2.4"/><circle cx="767.4" cy="67" r="2.4"/><circle cx="767.4" cy="75.9" r="2.4"/><circle cx="774" cy="68.1" r="2.4"/><circle cx="760.8" cy="68.6" r="2.4"/><circle cx="760.8" cy="73.7" r="2.4"/><circle cx="780.6" cy="69.3" r="2.4"/><circle cx="754.2" cy="69" r="2.4"/><circle cx="787.2" cy="66.7" r="2.4"/><circle cx="747.6" cy="66.9" r="2.4"/><circle cx="780.6" cy="71.8" r="2.4"/><circle cx="772.7" cy="68.4" r="2.4"/><circle cx="754.2" cy="72" r="2.4"/><circle cx="781.1" cy="69.7" r="2.4"/><circle cx="787.2" cy="70.5" r="2.4"/><circle cx="767.4" cy="89.5" r="2.4"/><circle cx="767.4" cy="83.8" r="2.4"/><circle cx="774" cy="84.9" r="2.4"/><circle cx="774" cy="88.4" r="2.4"/><circle cx="774" cy="80.2" r="2.4"/><circle cx="760.8" cy="79.8" r="2.4"/><circle cx="760.8" cy="88.9" r="2.4"/><circle cx="780.6" cy="87.8" r="2.4"/><circle cx="760.8" cy="81" r="2.4"/><circle cx="780.6" cy="80.3" r="2.4"/><circle cx="754.2" cy="86.9" r="2.4"/><circle cx="787.2" cy="89.3" r="2.4"/><circle cx="754.2" cy="80.4" r="2.4"/><circle cx="747.6" cy="89.4" r="2.4"/><circle cx="767.4" cy="102.9" r="2.4"/><circle cx="767.4" cy="100.4" r="2.4"/><circle cx="774" cy="98.8" r="2.4"/><circle cx="767.4" cy="95.9" r="2.4"/><circle cx="774" cy="95.3" r="2.4"/><circle cx="774" cy="103.7" r="2.4"/><circle cx="767.4" cy="107.3" r="2.4"/><circle cx="767.4" cy="113.9" r="2.4"/><circle cx="774" cy="107.6" r="2.4"/><circle cx="774" cy="115.5" r="2.4"/><circle cx="760.8" cy="112.4" r="2.4"/><circle cx="760.8" cy="108.1" r="2.4"/><circle cx="760.8" cy="106.5" r="2.4"/><circle cx="780.6" cy="114.1" r="2.4"/><circle cx="767.4" cy="120.7" r="2.4"/><circle cx="767.4" cy="122.3" r="2.4"/><circle cx="774" cy="125.6" r="2.4"/><circle cx="767.4" cy="128.5" r="2.4"/><circle cx="760.8" cy="126.1" r="2.4"/><circle cx="756.2" cy="122.8" r="2.4"/><circle cx="767.4" cy="148.3" r="2.4"/><circle cx="767.4" cy="134.1" r="2.4"/><circle cx="774" cy="130.3" r="2.4"/><circle cx="774" cy="135.4" r="2.4"/><circle cx="767.4" cy="138.9" r="2.4"/><circle cx="760.8" cy="131.2" r="2.4"/><circle cx="767.4" cy="155.2" r="2.4"/><circle cx="767.4" cy="158.6" r="2.4"/><circle cx="769.4" cy="162.3" r="2.4"/><circle cx="769.5" cy="154.4" r="2.4"/><circle cx="767.3" cy="158.5" r="2.4"/><circle cx="767.4" cy="168" r="2.4"/><circle cx="767.4" cy="169.6" r="2.4"/><circle cx="767.4" cy="176.6" r="2.4"/><circle cx="766.4" cy="176.8" r="2.4"/><circle cx="768.1" cy="176.3" r="2.4"/><circle cx="767.4" cy="201.1" r="2.4"/><circle cx="767.4" cy="198.8" r="2.4"/><circle cx="767.3" cy="198.4" r="2.4"/><circle cx="767.4" cy="218" r="2.4"/><circle cx="767.4" cy="234.8" r="2.4"/><circle cx="767.4" cy="251.9" r="2.4"/><circle cx="767.4" cy="268.1" r="2.4"/><circle cx="767.4" cy="281.8" r="2.4"/><circle cx="767.4" cy="280.9" r="2.4"/><circle cx="767.4" cy="294.4" r="2.4"/><circle cx="767.4" cy="291.9" r="2.4"/><circle cx="767.4" cy="312" r="2.4"/><circle cx="767.4" cy="300.9" r="2.4"/><circle cx="767.4" cy="322.2" r="2.4"/><circle cx="767.4" cy="338.9" r="2.4"/><circle cx="767.4" cy="357.4" r="2.4"/><circle cx="767.4" cy="356.4" r="2.4"/><circle cx="767.4" cy="375.6" r="2.4"/><circle cx="767.4" cy="376.3" r="2.4"/><circle cx="767.4" cy="377.3" r="2.4"/></g>
</g>
<g id="panel-c">
<text x="867.3" y="42" font-size="40.5">c</text>
<rect x="1022" y="87.4" width="9.5" height="308.8" fill="#fc9b9b"/>
<rect x="1036" y="174.9" width="9.5" height="221.3" fill="#8c8cfa"/>
<rect x="1059.7" y="236.3" width="9.5" height="159.9" fill="#fc9b9b"/>
<rect x="1073.7" y="253.1" width="9.5" height="143.1" fill="#8c8cfa"/>
<rect x="1097.4" y="286" width="9.5" height="110.2" fill="#fc9b9b"/>
<rect x="1111.4" y="297.7" width="9.5" height="98.5" fill="#8c8cfa"/>
<rect x="1135" y="323" width="9.5" height="73.2" fill="#fc9b9b"/>
<rect x="1149" y="319.6" width="9.5" height="76.6" fill="#8c8cfa"/>
<rect x="1172.7" y="360" width="9.5" height="36.2" fill="#fc9b9b"/>
<rect x="1186.7" y="330.6" width="9.5" height="65.6" fill="#8c8cfa"/>
<rect x="1210.4" y="348.2" width="9.5" height="48" fill="#fc9b9b"/>
<rect x="1224.4" y="375.2" width="9.5" height="21" fill="#8c8cfa"/>
<rect x="1262.1" y="375.2" width="9.5" height="21" fill="#8c8cfa"/>
<rect x="1285.8" y="360" width="9.5" height="36.2" fill="#fc9b9b"/>
<rect x="1299.8" y="341.9" width="9.5" height="54.3" fill="#8c8cfa"/>
<rect x="1323.4" y="384.4" width="9.5" height="11.8" fill="#fc9b9b"/>
<rect x="1337.4" y="386.1" width="9.5" height="10.1" fill="#8c8cfa"/>
<rect x="1375.1" y="375.2" width="9.5" height="21" fill="#8c8cfa"/>
<rect x="1398.8" y="372.2" width="9.5" height="24" fill="#fc9b9b"/>
<rect x="1412.8" y="386.1" width="9.5" height="10.1" fill="#8c8cfa"/>
<rect x="1436.5" y="384.4" width="9.5" height="11.8" fill="#fc9b9b"/>
<rect x="1450.5" y="375.2" width="9.5" height="21" fill="#8c8cfa"/>
<rect x="1474.2" y="384.4" width="9.5" height="11.8" fill="#fc9b9b"/>
<rect x="1488.2" y="386.1" width="9.5" height="10.1" fill="#8c8cfa"/>
<rect x="1563.5" y="375.2" width="9.5" height="21" fill="#8c8cfa"/>
<rect x="1601.2" y="386.1" width="9.5" height="10.1" fill="#8c8cfa"/>
<rect x="1638.9" y="386.1" width="9.5" height="10.1" fill="#8c8cfa"/>
<rect x="1676.6" y="386.1" width="9.5" height="10.1" fill="#8c8cfa"/>
<line x1="1017.6" y1="57.9" x2="1017.6" y2="397.9" stroke="#000" stroke-width="3.4"/>
<line x1="1003.6" y1="396.2" x2="1690" y2="396.2" stroke="#000" stroke-width="3.4"/>
<line x1="1003.6" y1="312.1" x2="1017.6" y2="312.1" stroke="#000" stroke-width="3.4"/>
<line x1="1003.6" y1="227.9" x2="1017.6" y2="227.9" stroke="#000" stroke-width="3.4"/>
<line x1="1003.6" y1="143.8" x2="1017.6" y2="143.8" stroke="#000" stroke-width="3.4"/>
<line x1="1003.6" y1="59.6" x2="1017.6" y2="59.6" stroke="#000" stroke-width="3.4"/>
<line x1="1033" y1="396.2" x2="1033" y2="410.7" stroke="#000" stroke-width="3.4"/>
<line x1="1070.7" y1="396.2" x2="1070.7" y2="410.7" stroke="#000" stroke-width="3.4"/>
<line x1="1108.4" y1="396.2" x2="1108.4" y2="410.7" stroke="#000" stroke-width="3.4"/>
<line x1="1146" y1="396.2" x2="1146" y2="410.7" stroke="#000" stroke-width="3.4"/>
<line x1="1183.7" y1="396.2" x2="1183.7" y2="410.7" stroke="#000" stroke-width="3.4"/>
<line x1="1221.4" y1="396.2" x2="1221.4" y2="410.7" stroke="#000" stroke-width="3.4"/>
<line x1="1259.1" y1="396.2" x2="1259.1" y2="410.7" stroke="#000" stroke-width="3.4"/>
<line x1="1296.8" y1="396.2" x2="1296.8" y2="410.7" stroke="#000" stroke-width="3.4"/>
<line x1="1334.4" y1="396.2" x2="1334.4" y2="410.7" stroke="#000" stroke-width="3.4"/>
<line x1="1372.1" y1="396.2" x2="1372.1" y2="410.7" stroke="#000" stroke-width="3.4"/>
<line x1="1409.8" y1="396.2" x2="1409.8" y2="410.7" stroke="#000" stroke-width="3.4"/>
<line x1="1447.5" y1="396.2" x2="1447.5" y2="410.7" stroke="#000" stroke-width="3.4"/>
<line x1="1485.2" y1="396.2" x2="1485.2" y2="410.7" stroke="#000" stroke-width="3.4"/>
<line x1="1522.8" y1="396.2" x2="1522.8" y2="410.7" stroke="#000" stroke-width="3.4"/>
<line x1="1560.5" y1="396.2" x2="1560.5" y2="410.7" stroke="#000" stroke-width="3.4"/>
<line x1="1598.2" y1="396.2" x2="1598.2" y2="410.7" stroke="#000" stroke-width="3.4"/>
<line x1="1635.9" y1="396.2" x2="1635.9" y2="410.7" stroke="#000" stroke-width="3.4"/>
<line x1="1673.6" y1="396.2" x2="1673.6" y2="410.7" stroke="#000" stroke-width="3.4"/>
<text x="998.6" y="406.2" font-size="27" text-anchor="end">0</text>
<text x="998.6" y="322.1" font-size="27" text-anchor="end">10</text>
<text x="998.6" y="237.9" font-size="27" text-anchor="end">20</text>
<text x="998.6" y="153.8" font-size="27" text-anchor="end">30</text>
<text x="998.6" y="69.6" font-size="27" text-anchor="end">40</text>
<text x="0" y="0" font-size="27.5" text-anchor="middle" textLength="250" lengthAdjust="spacingAndGlyphs" transform="translate(952 224) rotate(-90)">percentage of cells</text>
<text x="0" y="0" font-size="25.6" text-anchor="end" transform="translate(1042 435.5) rotate(-45)">10</text>
<text x="0" y="0" font-size="25.6" text-anchor="end" transform="translate(1079.7 435.5) rotate(-45)">20</text>
<text x="0" y="0" font-size="25.6" text-anchor="end" transform="translate(1117.4 435.5) rotate(-45)">30</text>
<text x="0" y="0" font-size="25.6" text-anchor="end" transform="translate(1155 435.5) rotate(-45)">40</text>
<text x="0" y="0" font-size="25.6" text-anchor="end" transform="translate(1192.7 435.5) rotate(-45)">50</text>
<text x="0" y="0" font-size="25.6" text-anchor="end" transform="translate(1230.4 435.5) rotate(-45)">60</text>
<text x="0" y="0" font-size="25.6" text-anchor="end" transform="translate(1268.1 435.5) rotate(-45)">70</text>
<text x="0" y="0" font-size="25.6" text-anchor="end" transform="translate(1305.8 435.5) rotate(-45)">80</text>
<text x="0" y="0" font-size="25.6" text-anchor="end" transform="translate(1343.4 435.5) rotate(-45)">90</text>
<text x="0" y="0" font-size="25.6" text-anchor="end" transform="translate(1381.1 435.5) rotate(-45)">100</text>
<text x="0" y="0" font-size="25.6" text-anchor="end" transform="translate(1418.8 435.5) rotate(-45)">110</text>
<text x="0" y="0" font-size="25.6" text-anchor="end" transform="translate(1456.5 435.5) rotate(-45)">120</text>
<text x="0" y="0" font-size="25.6" text-anchor="end" transform="translate(1494.2 435.5) rotate(-45)">130</text>
<text x="0" y="0" font-size="25.6" text-anchor="end" transform="translate(1531.8 435.5) rotate(-45)">140</text>
<text x="0" y="0" font-size="25.6" text-anchor="end" transform="translate(1569.5 435.5) rotate(-45)">150</text>
<text x="0" y="0" font-size="25.6" text-anchor="end" transform="translate(1607.2 435.5) rotate(-45)">160</text>
<text x="0" y="0" font-size="25.6" text-anchor="end" transform="translate(1644.9 435.5) rotate(-45)">170</text>
<text x="0" y="0" font-size="25.6" text-anchor="end" transform="translate(1682.6 435.5) rotate(-45)">180</text>
<text x="1205" y="489" font-size="26.5" textLength="277" lengthAdjust="spacingAndGlyphs" word-spacing="2.5">average speed (µm/h)</text>
<rect x="1497" y="75" width="36" height="17.4" fill="#fc9b9b"/>
<rect x="1497" y="122.4" width="36" height="17.4" fill="#8c8cfa"/>
<text x="1553" y="94.3" font-size="28.8" textLength="96.5" lengthAdjust="spacingAndGlyphs">0.77 cP</text>
<text x="1553" y="141.7" font-size="28.8" textLength="57.5" lengthAdjust="spacingAndGlyphs">8 cP</text>
</g>
<g id="panel-d">
<text x="1712.5" y="42" font-size="40.5">d</text>
<line x1="1892.6" y1="52.3" x2="1892.6" y2="392.1" stroke="#000" stroke-width="3.4"/>
<line x1="1878.6" y1="390.4" x2="2117" y2="390.4" stroke="#000" stroke-width="3.4"/>
<line x1="1878.6" y1="278.3" x2="1892.6" y2="278.3" stroke="#000" stroke-width="3.4"/>
<line x1="1878.6" y1="166.1" x2="1892.6" y2="166.1" stroke="#000" stroke-width="3.4"/>
<line x1="1878.6" y1="54" x2="1892.6" y2="54" stroke="#000" stroke-width="3.4"/>
<line x1="1955.6" y1="390.4" x2="1955.6" y2="404.9" stroke="#000" stroke-width="3.4"/>
<line x1="2052" y1="390.4" x2="2052" y2="404.9" stroke="#000" stroke-width="3.4"/>
<text x="1873" y="400" font-size="27" text-anchor="end">0</text>
<text x="1873" y="287.9" font-size="27" text-anchor="end">50</text>
<text x="1873" y="175.7" font-size="27" text-anchor="end">100</text>
<text x="1873" y="63.6" font-size="27" text-anchor="end">150</text>
<text x="0" y="0" font-size="27.5" text-anchor="middle" textLength="105" lengthAdjust="spacingAndGlyphs" transform="translate(1776 223) rotate(-90)">Average</text>
<text x="0" y="0" font-size="27" text-anchor="middle" textLength="311" lengthAdjust="spacingAndGlyphs" transform="translate(1811 219.5) rotate(-90)">per larvae speed (µm/h)</text>
<text x="1927" y="434" font-size="27" textLength="53" lengthAdjust="spacingAndGlyphs">0.77</text>
<text x="2044.5" y="434" font-size="27">8</text>
<text x="1928" y="468" font-size="26.5" textLength="163" lengthAdjust="spacingAndGlyphs">Pretreatment</text>
<text x="1916.6" y="501" font-size="26.5" textLength="175.4" lengthAdjust="spacingAndGlyphs" word-spacing="3">Viscosity (cP)</text>
<path d="M1961.5 254.4V85.6H2051V111" fill="none" stroke="#000" stroke-width="3.4" stroke-linejoin="miter"/>
<text x="2003" y="86.5" font-size="32" fill="#e1141c" style="stroke:#e1141c">*</text>
<path d="M1961 288.5C1961.8 288.8 1964.2 288.8 1965.5 290C1966.8 291.2 1967.9 293.8 1968.5 296C1969.1 298.2 1969.2 300.7 1969 303C1968.8 305.3 1968.1 307.2 1967.5 310C1966.9 312.8 1965.4 316.3 1965.2 320C1965 323.7 1965.8 328.3 1966.5 332C1967.2 335.7 1968 338.7 1969.5 342C1971 345.3 1973.4 349 1975.5 352C1977.6 355 1980.3 357.5 1982 360C1983.7 362.5 1985 364.8 1985.5 367C1986 369.2 1986.1 370.8 1985 373C1983.9 375.2 1981.3 378 1979 380C1976.7 382 1973 383.9 1971 385C1969 386.1 1967.7 386.2 1967 386.5L1945 386.5C1944.3 386.2 1943 386.1 1941 385C1939 383.9 1935.3 382 1933 380C1930.7 378 1928.1 375.2 1927 373C1925.9 370.8 1926 369.2 1926.5 367C1927 364.8 1928.3 362.5 1930 360C1931.7 357.5 1934.4 355 1936.5 352C1938.6 349 1941 345.3 1942.5 342C1944 338.7 1944.8 335.7 1945.5 332C1946.2 328.3 1947 323.7 1946.8 320C1946.6 316.3 1945.1 312.8 1944.5 310C1943.9 307.2 1943.2 305.3 1943 303C1942.8 300.7 1942.9 298.2 1943.5 296C1944.1 293.8 1945.2 291.2 1946.5 290C1947.8 288.8 1950.2 288.8 1951 288.5Z" fill="none" stroke="#f4a4a4" stroke-width="4" stroke-linejoin="round"/>
<path d="M2063.2 133C2063.4 133.3 2064.5 133.5 2064.7 135C2064.9 136.5 2064.9 138.7 2064.2 142C2063.5 145.3 2061.5 150.3 2060.7 155C2059.9 159.7 2059.4 165 2059.2 170C2059 175 2058.9 180 2059.7 185C2060.5 190 2062.4 195 2064.2 200C2066 205 2068.9 210 2070.7 215C2072.5 220 2074.3 225.8 2075.2 230C2076.1 234.2 2076.4 235.8 2076.2 240C2075.9 244.2 2074.6 250 2073.7 255C2072.8 260 2071.3 265.5 2070.7 270C2070.1 274.5 2069.9 277.8 2070.2 282C2070.5 286.2 2071.5 290.3 2072.7 295C2073.9 299.7 2075.9 305 2077.2 310C2078.4 315 2079.5 320.3 2080.2 325C2080.9 329.7 2081.2 333.8 2081.2 338C2081.2 342.2 2081.1 345.5 2080.2 350C2079.3 354.5 2077.4 360.3 2075.7 365C2073.9 369.7 2071 375 2069.7 378C2068.4 381 2068.3 382 2067.7 383C2067.1 384 2066.4 383.8 2066.2 384L2038.2 384C2037.9 383.8 2037.3 384 2036.7 383C2036.1 382 2036 381 2034.7 378C2033.4 375 2030.4 369.7 2028.7 365C2026.9 360.3 2025.1 354.5 2024.2 350C2023.3 345.5 2023.2 342.2 2023.2 338C2023.2 333.8 2023.5 329.7 2024.2 325C2024.9 320.3 2025.9 315 2027.2 310C2028.4 305 2030.5 299.7 2031.7 295C2032.9 290.3 2033.9 286.2 2034.2 282C2034.5 277.8 2034.3 274.5 2033.7 270C2033.1 265.5 2031.6 260 2030.7 255C2029.8 250 2028.4 244.2 2028.2 240C2027.9 235.8 2028.3 234.2 2029.2 230C2030.1 225.8 2031.9 220 2033.7 215C2035.5 210 2038.4 205 2040.2 200C2042 195 2043.9 190 2044.7 185C2045.5 180 2045.4 175 2045.2 170C2045 165 2044.5 159.7 2043.7 155C2042.9 150.3 2040.9 145.3 2040.2 142C2039.5 138.7 2039.5 136.5 2039.7 135C2039.9 133.5 2040.9 133.3 2041.2 133Z" fill="none" stroke="#8f8ff5" stroke-width="4" stroke-linejoin="round"/>
<rect x="1935" y="358" width="41" height="8.4" fill="#f00000"/>
<line x1="1951" y1="320.6" x2="1961" y2="320.6" stroke="#f00000" stroke-width="3.4"/>
<line x1="1931" y1="371" x2="1981" y2="371" stroke="#f00000" stroke-width="3.4"/>
<rect x="2033" y="299" width="39" height="8.4" fill="#f00000"/>
<line x1="2034" y1="227.6" x2="2071" y2="227.6" stroke="#f00000" stroke-width="3.4"/>
<line x1="2026" y1="341.4" x2="2078" y2="341.4" stroke="#f00000" stroke-width="3.4"/>
<g fill="#000"><circle cx="1956.4" cy="289.4" r="3.7"/><circle cx="1950" cy="302.4" r="3.7"/><circle cx="1963" cy="307.4" r="3.7"/><circle cx="1956.4" cy="325.6" r="3.7"/><circle cx="1956.4" cy="339" r="3.7"/><circle cx="1956.4" cy="349.6" r="3.7"/><circle cx="1949.4" cy="360" r="3.7"/><circle cx="1936" cy="363" r="3.7"/><circle cx="1976.4" cy="366.4" r="3.7"/><circle cx="1936" cy="370.6" r="3.7"/><circle cx="1949.4" cy="371.6" r="3.7"/><circle cx="1963" cy="371" r="3.7"/><circle cx="1950" cy="384" r="3.7"/><circle cx="1963" cy="382.4" r="3.7"/></g>
<g fill="#000"><circle cx="2045.6" cy="133.4" r="3.7"/><circle cx="2059" cy="138" r="3.7"/><circle cx="2052.2" cy="219.4" r="3.7"/><circle cx="2052.2" cy="236.6" r="3.7"/><circle cx="2045.6" cy="250" r="3.7"/><circle cx="2059" cy="248" r="3.7"/><circle cx="2052.2" cy="303" r="3.7"/><circle cx="2052.2" cy="319.6" r="3.7"/><circle cx="2045.6" cy="328.4" r="3.7"/><circle cx="2059" cy="330.4" r="3.7"/><circle cx="2052.2" cy="353" r="3.7"/><circle cx="2052.2" cy="373.6" r="3.7"/><circle cx="2052.2" cy="383.4" r="3.7"/></g>
</g>
<g id="panel-e">
<text x="41.5" y="619.5" font-size="40.5">e</text>
<text x="204" y="631.2" font-size="26.5" textLength="92.8" lengthAdjust="spacingAndGlyphs">0.77 cP</text>
<text x="169.6" y="663.2" font-size="26.5" textLength="161.6" lengthAdjust="spacingAndGlyphs">pretreatment</text>
<text x="612" y="631.2" font-size="26.5" textLength="54.4" lengthAdjust="spacingAndGlyphs">3 cP</text>
<text x="558.8" y="663.2" font-size="26.5" textLength="162" lengthAdjust="spacingAndGlyphs">pretreatment</text>
<clipPath id="clipE1"><rect x="66" y="684.4" width="367.6" height="366.6"/></clipPath>
<rect x="66" y="684.4" width="367.6" height="366.6" fill="#444"/>
<rect x="66" y="684.4" width="367.6" height="366.6" fill="#000" filter="url(#texE1)"/>
<g clip-path="url(#clipE1)">
<g filter="url(#blurL)">
<ellipse cx="370" cy="760" rx="100" ry="95" fill="#000" opacity="0.6"/>
<ellipse cx="110" cy="850" rx="40" ry="70" fill="#000" opacity="0.15"/>
<ellipse cx="240" cy="770" rx="50" ry="40" fill="#fff" opacity="0.12"/>
<ellipse cx="120" cy="960" rx="50" ry="50" fill="#000" opacity="0.12"/>
</g>
<g filter="url(#blur2)">
<ellipse cx="219" cy="793" rx="10" ry="13" fill="#78d448" transform="rotate(-25 219 793)"/>
<ellipse cx="228" cy="808" rx="9" ry="9" fill="#78d448" transform="rotate(0 228 808)"/>
<ellipse cx="187" cy="844" rx="13" ry="12" fill="#5ccc5a" transform="rotate(10 187 844)"/>
<ellipse cx="233" cy="878" rx="12.5" ry="12.5" fill="#78d448" transform="rotate(0 233 878)"/>
<ellipse cx="210" cy="928" rx="11" ry="12" fill="#2e8f46" transform="rotate(0 210 928)"/>
<ellipse cx="220" cy="952" rx="12" ry="13" fill="#1b5a2e" transform="rotate(0 220 952)"/>
<ellipse cx="201" cy="971" rx="11" ry="11.5" fill="#78d448" transform="rotate(0 201 971)"/>
<ellipse cx="193" cy="994" rx="11" ry="9.5" fill="#48bb4e" transform="rotate(0 193 994)"/>
<ellipse cx="220" cy="998" rx="11.5" ry="10" fill="#48bb4e" transform="rotate(0 220 998)"/>
<ellipse cx="324" cy="974" rx="12.5" ry="12" fill="#78d448" transform="rotate(0 324 974)"/>
<ellipse cx="342" cy="1011" rx="10" ry="12" fill="#78d448" transform="rotate(10 342 1011)"/>
<ellipse cx="384" cy="1044" rx="20" ry="8" fill="#78d448" transform="rotate(0 384 1044)"/>
<ellipse cx="292" cy="863" rx="6" ry="4" fill="#2e8f46" transform="rotate(0 292 863)"/>
</g>
<g filter="url(#blur1)">
<path d="M0 0L-13 -8.5L-10 -2.8L-21 -4L-21 4L-10 2.8L-13 8.5Z" fill="#f0262c" transform="translate(203 835) rotate(140)"/>
<path d="M0 0L-13 -8.5L-10 -2.8L-21 -4L-21 4L-10 2.8L-13 8.5Z" fill="#f0262c" transform="translate(234 935) rotate(135)"/>
<path d="M0 0L-13 -8.5L-10 -2.8L-21 -4L-21 4L-10 2.8L-13 8.5Z" fill="#f0262c" transform="translate(231 984) rotate(138)"/>
</g></g>
<clipPath id="clipE2"><rect x="452.4" y="684.4" width="367.6" height="366.6"/></clipPath>
<rect x="452.4" y="684.4" width="367.6" height="366.6" fill="#444"/>
<rect x="452.4" y="684.4" width="367.6" height="366.6" fill="#000" filter="url(#texE2)"/>
<g clip-path="url(#clipE2)">
<g filter="url(#blurL)">
<ellipse cx="715" cy="990" rx="120" ry="75" fill="#000" opacity="0.58"/>
<ellipse cx="640" cy="900" rx="60" ry="40" fill="#000" opacity="0.3"/>
<ellipse cx="790" cy="760" rx="50" ry="70" fill="#fff" opacity="0.12"/>
<ellipse cx="520" cy="760" rx="60" ry="60" fill="#000" opacity="0.15"/>
</g>
<g filter="url(#blur2)">
<ellipse cx="562" cy="797" rx="15" ry="11" fill="#78d448" transform="rotate(15 562 797)"/>
<ellipse cx="700" cy="746" rx="12" ry="9" fill="#48bb4e" transform="rotate(30 700 746)"/>
<ellipse cx="605" cy="840" rx="22" ry="11" fill="#40b056" transform="rotate(0 605 840)"/>
<ellipse cx="612" cy="856" rx="10" ry="12" fill="#2e8f46" transform="rotate(0 612 856)"/>
<ellipse cx="610" cy="896" rx="8" ry="19" fill="#78d448" transform="rotate(10 610 896)"/>
<ellipse cx="720" cy="881" rx="8" ry="12" fill="#48bb4e" transform="rotate(0 720 881)"/>
<ellipse cx="774" cy="921" rx="15" ry="10" fill="#5ccb55" transform="rotate(-30 774 921)"/>
<ellipse cx="768" cy="934" rx="8" ry="8" fill="#48bb4e" transform="rotate(0 768 934)"/>
<ellipse cx="592" cy="925" rx="15" ry="13" fill="#1b5a2e" transform="rotate(0 592 925)"/>
<ellipse cx="500" cy="950" rx="7" ry="14" fill="#2e8f46" transform="rotate(0 500 950)"/>
<ellipse cx="500" cy="958" rx="9" ry="7" fill="#48bb4e" transform="rotate(0 500 958)"/>
<ellipse cx="557" cy="957" rx="8" ry="17" fill="#78d448" transform="rotate(-15 557 957)"/>
<ellipse cx="563" cy="975" rx="11" ry="8" fill="#78d448" transform="rotate(20 563 975)"/>
<ellipse cx="538" cy="989" rx="10" ry="12" fill="#48bb4e" transform="rotate(0 538 989)"/>
</g>
<g filter="url(#blur1)">
<path d="M0 0L-13 -8.5L-10 -2.8L-21 -4L-21 4L-10 2.8L-13 8.5Z" fill="#f0262c" transform="translate(648 829) rotate(140)"/>
<path d="M0 0L-13 -8.5L-10 -2.8L-21 -4L-21 4L-10 2.8L-13 8.5Z" fill="#f0262c" transform="translate(520 937) rotate(140)"/>
<path d="M0 0L-13 -8.5L-10 -2.8L-21 -4L-21 4L-10 2.8L-13 8.5Z" fill="#f0262c" transform="translate(621 929) rotate(155)"/>
<path d="M0 0L-13 -8.5L-10 -2.8L-21 -4L-21 4L-10 2.8L-13 8.5Z" fill="#f0262c" transform="translate(566 996) rotate(167)"/>
</g></g>
<rect x="742" y="1027" width="39" height="12.4" fill="#fff"/>
<text x="89.5" y="1085" font-size="26.5" textLength="147.5" lengthAdjust="spacingAndGlyphs" fill="#5f5f5f" style="stroke:#5f5f5f">vasculature</text>
<text x="273" y="1085" font-size="26.5" textLength="161.4" lengthAdjust="spacingAndGlyphs" fill="#1ea552" style="stroke:#1ea552">MDA-MB-231</text>
<text x="669" y="1085" font-size="26.5" textLength="135" lengthAdjust="spacingAndGlyphs">bar: 50 µm</text>
<line x1="965.4" y1="697.9" x2="965.4" y2="1039.5" stroke="#000" stroke-width="3.4"/>
<line x1="951.4" y1="1037.8" x2="1136" y2="1037.8" stroke="#000" stroke-width="3.4"/>
<line x1="951.4" y1="925.1" x2="965.4" y2="925.1" stroke="#000" stroke-width="3.4"/>
<line x1="951.4" y1="812.4" x2="965.4" y2="812.4" stroke="#000" stroke-width="3.4"/>
<line x1="951.4" y1="699.7" x2="965.4" y2="699.7" stroke="#000" stroke-width="3.4"/>
<line x1="1014" y1="1037.8" x2="1014" y2="1052.3" stroke="#000" stroke-width="3.4"/>
<line x1="1087.4" y1="1037.8" x2="1087.4" y2="1052.3" stroke="#000" stroke-width="3.4"/>
<text x="946" y="1047.3" font-size="27" text-anchor="end">0</text>
<text x="946" y="934.6" font-size="27" text-anchor="end">20</text>
<text x="946" y="821.9" font-size="27" text-anchor="end">40</text>
<text x="946" y="709.2" font-size="27" text-anchor="end">60</text>
<path d="M1016.2 755C1016.3 755.3 1016.8 754.5 1016.9 757C1017 759.5 1017 764.5 1017 770C1017 775.5 1016.9 783 1016.9 790C1016.9 797 1016.5 806.7 1016.8 812C1017.1 817.3 1017.7 818.7 1018.5 822C1019.3 825.3 1020.9 828.2 1021.8 832C1022.7 835.8 1023.6 841.5 1024 845C1024.4 848.5 1024.4 850.2 1024.2 853C1024 855.8 1023.6 859.2 1023 862C1022.4 864.8 1021 867.7 1020.5 870C1020 872.3 1019.5 873.5 1019.8 876C1020 878.5 1020.8 881.8 1022 885C1023.2 888.2 1025.2 891.2 1027 895C1028.8 898.8 1031.5 904.2 1033 908C1034.5 911.8 1035.4 914.3 1036 918C1036.6 921.7 1036.9 926 1036.8 930C1036.7 934 1036.3 937.8 1035.5 942C1034.7 946.2 1033.4 950.3 1032 955C1030.6 959.7 1028.5 965 1027 970C1025.5 975 1024 980 1023 985C1022 990 1021.6 995 1021.2 1000C1020.8 1005 1020.8 1010 1020.8 1015C1020.8 1020 1021.1 1025.9 1021.2 1030C1021.3 1034.1 1021.5 1037.9 1021.6 1039.5L1006.4 1039.5C1006.5 1037.9 1006.7 1034.1 1006.8 1030C1006.9 1025.9 1007.2 1020 1007.2 1015C1007.2 1010 1007.2 1005 1006.8 1000C1006.4 995 1006 990 1005 985C1004 980 1002.5 975 1001 970C999.5 965 997.4 959.7 996 955C994.6 950.3 993.3 946.2 992.5 942C991.7 937.8 991.3 934 991.2 930C991.1 926 991.4 921.7 992 918C992.6 914.3 993.5 911.8 995 908C996.5 904.2 999.2 898.8 1001 895C1002.8 891.2 1004.8 888.2 1006 885C1007.2 881.8 1008 878.5 1008.2 876C1008.5 873.5 1008 872.3 1007.5 870C1007 867.7 1005.6 864.8 1005 862C1004.4 859.2 1004 855.8 1003.8 853C1003.6 850.2 1003.6 848.5 1004 845C1004.4 841.5 1005.3 835.8 1006.2 832C1007.1 828.2 1008.7 825.3 1009.5 822C1010.3 818.7 1010.9 817.3 1011.2 812C1011.5 806.7 1011.1 797 1011.1 790C1011.1 783 1011 775.5 1011 770C1011 764.5 1011 759.5 1011.1 757C1011.2 754.5 1011.7 755.3 1011.8 755Z" fill="none" stroke="#f4a4a4" stroke-width="4" stroke-linejoin="round"/>
<path d="M1094.2 717C1094.2 718.3 1094.3 721.2 1094.3 725C1094.3 728.8 1094.2 735 1094.4 740C1094.6 745 1094.7 750 1095.4 755C1096.1 760 1097.1 765 1098.4 770C1099.7 775 1101.8 780 1103.4 785C1105 790 1106.9 795 1107.9 800C1109 805 1109.4 809.2 1109.7 815C1110 820.8 1109.8 828.8 1109.7 835C1109.7 841.2 1109.9 846.5 1109.4 852C1108.9 857.5 1108.1 863 1106.9 868C1105.7 873 1103.8 877.5 1102.4 882C1101 886.5 1099.8 890.3 1098.4 895C1097 899.7 1095.2 905 1093.9 910C1092.6 915 1091.4 919.2 1090.6 925C1089.8 930.8 1089.3 938.8 1089 945C1088.7 951.2 1088.7 957 1088.9 962C1089.1 967 1089.5 970.7 1090.4 975C1091.3 979.3 1093 983.8 1094.4 988C1095.8 992.2 1097.8 996.3 1098.9 1000C1100 1003.7 1100.6 1007.2 1101 1010C1101.4 1012.8 1101.4 1014.5 1101.2 1017C1101 1019.5 1100.6 1022.3 1099.9 1025C1099.2 1027.7 1097.7 1030.8 1096.9 1033C1096.2 1035.2 1095.8 1037.3 1095.4 1038.5C1095 1039.7 1094.6 1039.8 1094.4 1040L1080.4 1040C1080.2 1039.8 1079.8 1039.7 1079.4 1038.5C1079 1037.3 1078.7 1035.2 1077.9 1033C1077.2 1030.8 1075.6 1027.7 1074.9 1025C1074.2 1022.3 1073.8 1019.5 1073.6 1017C1073.4 1014.5 1073.4 1012.8 1073.8 1010C1074.2 1007.2 1074.8 1003.7 1075.9 1000C1077 996.3 1079 992.2 1080.4 988C1081.8 983.8 1083.5 979.3 1084.4 975C1085.3 970.7 1085.7 967 1085.9 962C1086.1 957 1086.1 951.2 1085.8 945C1085.5 938.8 1085 930.8 1084.2 925C1083.4 919.2 1082.2 915 1080.9 910C1079.6 905 1077.8 899.7 1076.4 895C1075 890.3 1073.8 886.5 1072.4 882C1071 877.5 1069.1 873 1067.9 868C1066.7 863 1065.9 857.5 1065.4 852C1064.9 846.5 1065.2 841.2 1065.1 835C1065.1 828.8 1064.8 820.8 1065.1 815C1065.4 809.2 1065.9 805 1066.9 800C1068 795 1069.8 790 1071.4 785C1073 780 1075.1 775 1076.4 770C1077.7 765 1078.7 760 1079.4 755C1080.1 750 1080.2 745 1080.4 740C1080.6 735 1080.5 728.8 1080.5 725C1080.5 721.2 1080.6 718.3 1080.6 717Z" fill="none" stroke="#8e8e8e" stroke-width="4" stroke-linejoin="round"/>
<text x="0" y="0" font-size="27" text-anchor="middle" textLength="353" lengthAdjust="spacingAndGlyphs" transform="translate(893 870.5) rotate(-90)">% age of cells extravasated</text>
<text x="985" y="1086" font-size="27" textLength="49" lengthAdjust="spacingAndGlyphs">0.77</text>
<text x="1080.5" y="1086" font-size="27">3</text>
<text x="961.6" y="1119" font-size="26.5" textLength="162.4" lengthAdjust="spacingAndGlyphs">Pretreatment</text>
<text x="950.6" y="1152" font-size="26.5" textLength="175.4" lengthAdjust="spacingAndGlyphs" word-spacing="3">Viscosity (cP)</text>
<path d="M1015 736V687.6H1087.5V694" fill="none" stroke="#000" stroke-width="3.4" stroke-linejoin="miter"/>
<text x="1038.5" y="690" font-size="25" textLength="19" lengthAdjust="spacingAndGlyphs" fill="#e1141c" style="stroke:#e1141c">**</text>
<rect x="995" y="920" width="38" height="11" fill="#f00000"/>
<line x1="1008.5" y1="874.6" x2="1019.5" y2="874.6" stroke="#f00000" stroke-width="3.4"/>
<line x1="1001.6" y1="963.4" x2="1026" y2="963.4" stroke="#f00000" stroke-width="3.4"/>
<rect x="1068" y="841" width="38" height="11" fill="#f00000"/>
<line x1="1070" y1="801" x2="1105" y2="801" stroke="#f00000" stroke-width="3.4"/>
<line x1="1080" y1="894" x2="1096" y2="894" stroke="#f00000" stroke-width="3.4"/>
<g fill="#000"><circle cx="1013.6" cy="756.6" r="3.2"/><circle cx="1013.6" cy="778.6" r="3.2"/><circle cx="1013.6" cy="823.6" r="3.2"/><circle cx="1009.6" cy="840.4" r="3.2"/><circle cx="1018" cy="840.4" r="3.2"/><circle cx="1009.6" cy="851.6" r="3.2"/><circle cx="1018" cy="851.6" r="3.2"/><circle cx="1018" cy="863" r="3.2"/><circle cx="1009.6" cy="869" r="3.2"/><circle cx="1018" cy="891.6" r="3.2"/><circle cx="1009.6" cy="897" r="3.2"/><circle cx="1009.6" cy="914" r="3.2"/><circle cx="1018" cy="914" r="3.2"/><circle cx="993" cy="919.6" r="3.2"/><circle cx="1001.6" cy="919.6" r="3.2"/><circle cx="1026.4" cy="919.6" r="3.2"/><circle cx="1035" cy="919.6" r="3.2"/><circle cx="1009.6" cy="925.4" r="3.2"/><circle cx="1018" cy="925.4" r="3.2"/><circle cx="1005.2" cy="936.4" r="3.2"/><circle cx="1013.6" cy="936.4" r="3.2"/><circle cx="1022" cy="936.4" r="3.2"/><circle cx="1009.6" cy="947.6" r="3.2"/><circle cx="1018" cy="947.6" r="3.2"/><circle cx="1001.6" cy="953.4" r="3.2"/><circle cx="1026.4" cy="953.4" r="3.2"/><circle cx="1018" cy="959" r="3.2"/><circle cx="1009.6" cy="964.6" r="3.2"/><circle cx="1001.6" cy="970" r="3.2"/><circle cx="1018" cy="970" r="3.2"/><circle cx="1013.6" cy="987" r="3.2"/><circle cx="1013.6" cy="998.4" r="3.2"/><circle cx="1013.6" cy="1009.6" r="3.2"/><circle cx="1005.6" cy="1037.6" r="3.2"/><circle cx="1013.6" cy="1037.6" r="3.2"/><circle cx="1021.6" cy="1037.6" r="3.2"/></g>
<g fill="#000"><circle cx="1080.6" cy="717" r="3.2"/><circle cx="1094" cy="717" r="3.2"/><circle cx="1080.6" cy="756" r="3.2"/><circle cx="1094" cy="756" r="3.2"/><circle cx="1080.6" cy="778.6" r="3.2"/><circle cx="1094" cy="784.4" r="3.2"/><circle cx="1080.6" cy="801" r="3.2"/><circle cx="1094" cy="801" r="3.2"/><circle cx="1108" cy="801" r="3.2"/><circle cx="1067" cy="806.6" r="3.2"/><circle cx="1080.6" cy="812.4" r="3.2"/><circle cx="1094" cy="812.4" r="3.2"/><circle cx="1087.4" cy="823.6" r="3.2"/><circle cx="1067" cy="835" r="3.2"/><circle cx="1080.6" cy="840.4" r="3.2"/><circle cx="1094" cy="840.4" r="3.2"/><circle cx="1067" cy="851.6" r="3.2"/><circle cx="1080.6" cy="851.6" r="3.2"/><circle cx="1094" cy="851.6" r="3.2"/><circle cx="1108" cy="851.6" r="3.2"/><circle cx="1080.6" cy="869" r="3.2"/><circle cx="1094" cy="869" r="3.2"/><circle cx="1094" cy="880" r="3.2"/><circle cx="1080.6" cy="885.6" r="3.2"/><circle cx="1087.4" cy="897" r="3.2"/><circle cx="1087.4" cy="919.6" r="3.2"/><circle cx="1066.6" cy="1009" r="3.2"/><circle cx="1080.6" cy="1009.6" r="3.2"/><circle cx="1094" cy="1013" r="3.2"/><circle cx="1080.6" cy="1020.6" r="3.2"/><circle cx="1094" cy="1025.6" r="3.2"/><circle cx="1087.4" cy="1037.6" r="3.2"/></g>
</g>
<g id="panel-f">
<text x="1260" y="619.5" font-size="40.5">f</text>
<text x="1445" y="638" font-size="26.5" textLength="92" lengthAdjust="spacingAndGlyphs">0.77 cP</text>
<text x="1411" y="670.4" font-size="26.5" textLength="161" lengthAdjust="spacingAndGlyphs">pretreatment</text>
<text x="1656" y="642" font-size="26.5" textLength="53" lengthAdjust="spacingAndGlyphs">48 h</text>
<text x="1851" y="638" font-size="26.5" textLength="55" lengthAdjust="spacingAndGlyphs">8 cP</text>
<text x="1798" y="670.4" font-size="26.5" textLength="162" lengthAdjust="spacingAndGlyphs">pretreatment</text>
<rect x="1306.6" y="683" width="368.2" height="366.6" fill="#000"/>
<rect x="1306.6" y="683" width="368.2" height="366.6" fill="#000" filter="url(#texF1)"/>
<g filter="url(#blur1)">
<ellipse cx="1378" cy="791" rx="6" ry="2.5" fill="#2fd24a" transform="rotate(0 1378 791)"/>
<ellipse cx="1654" cy="857" rx="2.5" ry="4" fill="#2fd24a" transform="rotate(20 1654 857)"/>
</g>
<path d="M0 0L-13.5 -12L-13.5 -7.8L-25 -7.8L-25 7.8L-13.5 7.8L-13.5 12Z" fill="#fb1216" transform="translate(1361.7 791.5) rotate(5)"/>
<path d="M0 0L-13.5 -12L-13.5 -7.8L-25 -7.8L-25 7.8L-13.5 7.8L-13.5 12Z" fill="#fb1216" transform="translate(1646.8 869.5) rotate(-40)"/>
<rect x="1693.4" y="683" width="367.6" height="366.6" fill="#000"/>
<rect x="1693.4" y="683" width="367.6" height="366.6" fill="#000" filter="url(#texF2)"/>
<g filter="url(#blur1)">
<ellipse cx="1776" cy="717" rx="2.5" ry="7" fill="#2fd24a" transform="rotate(10 1776 717)"/>
<ellipse cx="1814" cy="874" rx="5" ry="6" fill="#2fd24a" transform="rotate(-40 1814 874)"/>
<ellipse cx="1790" cy="894" rx="5" ry="4" fill="#2fd24a" transform="rotate(-30 1790 894)"/>
<ellipse cx="1948" cy="928" rx="3" ry="4" fill="#2fd24a" transform="rotate(0 1948 928)"/>
<ellipse cx="1974" cy="988" rx="3" ry="5" fill="#2fd24a" transform="rotate(-20 1974 988)"/>
</g>
<path d="M0 0L-13.5 -12L-13.5 -7.8L-25 -7.8L-25 7.8L-13.5 7.8L-13.5 12Z" fill="#fb1216" transform="translate(1756 719) rotate(10)"/>
<path d="M0 0L-13.5 -12L-13.5 -7.8L-25 -7.8L-25 7.8L-13.5 7.8L-13.5 12Z" fill="#fb1216" transform="translate(1798.5 858.5) rotate(48)"/>
<path d="M0 0L-13.5 -12L-13.5 -7.8L-25 -7.8L-25 7.8L-13.5 7.8L-13.5 12Z" fill="#fb1216" transform="translate(1772 885.5) rotate(15)"/>
<path d="M0 0L-13.5 -12L-13.5 -7.8L-25 -7.8L-25 7.8L-13.5 7.8L-13.5 12Z" fill="#fb1216" transform="translate(1955.7 928.4) rotate(180)"/>
<path d="M0 0L-13.5 -12L-13.5 -7.8L-25 -7.8L-25 7.8L-13.5 7.8L-13.5 12Z" fill="#fb1216" transform="translate(1986 986.5) rotate(180)"/>
<rect x="1556.4" y="1025.6" width="98" height="12" fill="#fff"/>
<rect x="1939.4" y="1025.6" width="97.6" height="12" fill="#fff"/>
<text x="1333.6" y="1085" font-size="26.5" textLength="98.4" lengthAdjust="spacingAndGlyphs" fill="#5f5f5f" style="stroke:#5f5f5f">nucleus</text>
<text x="1467" y="1085" font-size="26.5" textLength="205" lengthAdjust="spacingAndGlyphs" fill="#1ea552" style="stroke:#1ea552">human vimentin</text>
<text x="1890.6" y="1085" font-size="26.5" textLength="150" lengthAdjust="spacingAndGlyphs">bar: 100 µm</text>
</g>
</svg></body></html>
